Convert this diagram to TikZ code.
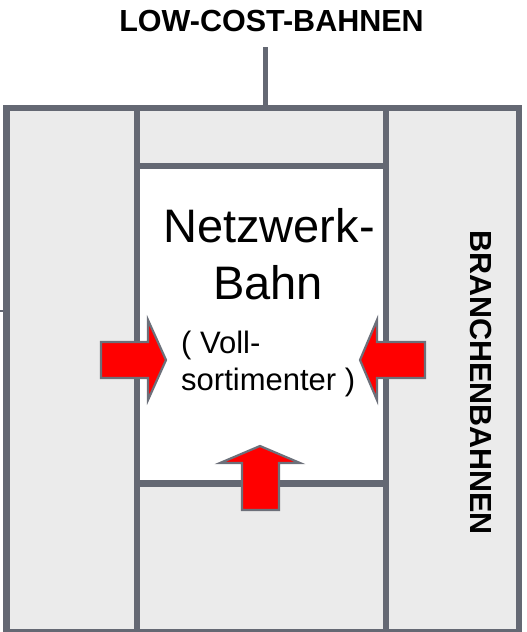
\documentclass[tikz,border=0pt]{standalone}
\usepackage{fontspec}
\setmainfont{Liberation Sans}
\definecolor{framegray}{HTML}{646873}
\definecolor{cellgray}{HTML}{EBEBEB}
\definecolor{arrowred}{HTML}{FF0000}
\definecolor{arrowedge}{HTML}{6C707A}
\begin{document}
\begin{tikzpicture}[x=1pt,y=-1pt,
  frameline/.style={draw=framegray,line width=6.5pt},
  push/.style={fill=arrowred,draw=arrowedge,line width=2.2pt,line join=miter},
  lbl/.style={inner sep=0pt,text=black}]
\useasboundingbox (0,0) rectangle (527,632);
\clip (0,0) rectangle (527,632);
% cells
\fill[cellgray] (6.5,108) rectangle (519,640);
\fill[white] (137,166) rectangle (386,483.5);
% frame
\draw[frameline] (6.5,108) rectangle (519,632.5);
\draw[frameline] (137,108) -- (137,640);
\draw[frameline] (386,108) -- (386,640);
\draw[frameline] (137,166) -- (386,166);
\draw[frameline] (137,483.5) -- (386,483.5);
% title and stem
\node[lbl,font=\bfseries\fontsize{30.5}{36}\selectfont] (title) at (271.5,21) {LOW-COST-BAHNEN};
\coordinate (stemtop) at (265.5,47);
\coordinate (stembot) at (265.5,108);
\draw[framegray,line width=5pt] (stemtop) -- (stembot);
% left stub
\coordinate (stubA) at (0,311);
\coordinate (stubB) at (3,311);
\draw[framegray,line width=2pt] (stubA) -- (stubB);
% side label
\node[lbl,font=\bfseries\fontsize{30.5}{36}\selectfont,rotate=-90] (branch) at (480.5,382.5) {BRANCHENBAHNEN};
% centre text
\node[lbl,font=\fontsize{47}{58}\selectfont,anchor=base] (nw1) at (269,242) {Netzwerk-};
\node[lbl,font=\fontsize{47}{58}\selectfont,anchor=base] (nw2) at (268,299) {Bahn};
\node[lbl,font=\fontsize{31}{37}\selectfont,anchor=base west] (v1) at (181,353) {( Voll-};
\node[lbl,font=\fontsize{31}{37}\selectfont,anchor=base west] (v2) at (181,390) {sortimenter )};
% arrows
\draw[push] (101,342) -- (148,342) -- (148,320) -- (166,360) -- (148,400) -- (148,378) -- (101,378) -- cycle;
\draw[push] (425,342) -- (377,342) -- (377,320) -- (360,360) -- (377,400) -- (377,378) -- (425,378) -- cycle;
\draw[push] (242,510) -- (242,463) -- (220,463) -- (260,446) -- (300,463) -- (279,463) -- (279,510) -- cycle;
\end{tikzpicture}
\end{document}
